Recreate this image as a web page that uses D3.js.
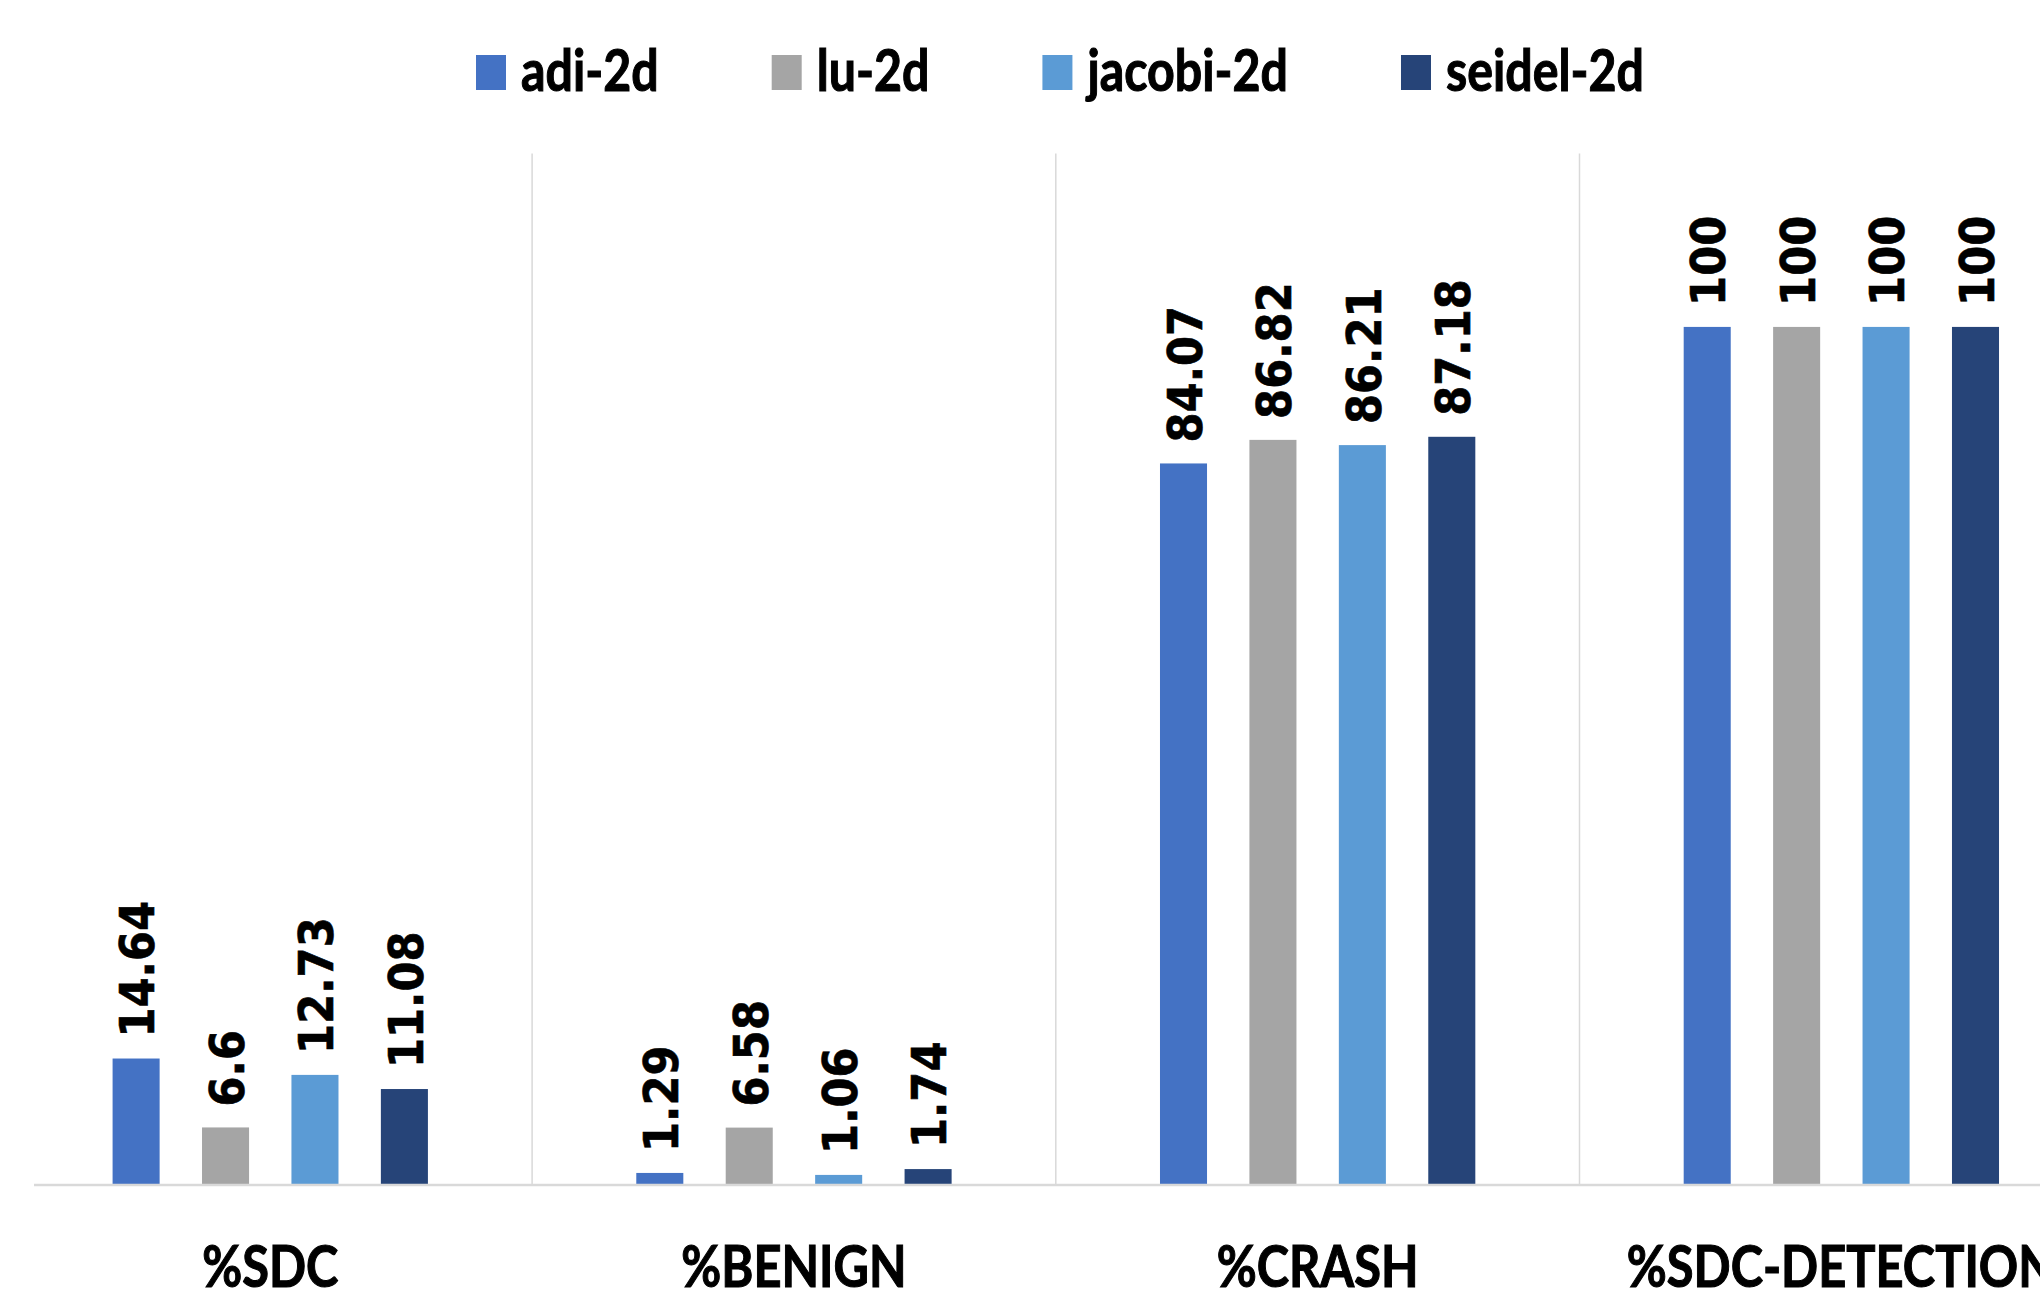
<!DOCTYPE html>
<html>
<head>
<meta charset="utf-8">
<script src="https://cdn.jsdelivr.net/npm/d3@7/dist/d3.min.js"></script>
<style>
  html, body { margin: 0; padding: 0; background: #ffffff; overflow: hidden; }
  svg { display: block; }
</style>
</head>
<body>
<svg id="chart" width="2040" height="1299"></svg>
<script>
// ---- data ----
const categories = ["%SDC", "%BENIGN", "%CRASH", "%SDC-DETECTION"];
const seriesNames = ["adi-2d", "lu-2d", "jacobi-2d", "seidel-2d"];
const adi2d    = [14.64, 1.29, 84.07, 100];
const lu2d     = [6.6,   6.58, 86.82, 100];
const jacobi2d = [12.73, 1.06, 86.21, 100];
const seidel2d = [11.08, 1.74, 87.18, 100];
const seriesColors = ["#4472C4", "#A5A5A5", "#5B9BD5", "#264478"];
const yDomain = [0, 120];

const seriesValues = [adi2d, lu2d, jacobi2d, seidel2d];
const rows = [];
categories.forEach((c, ci) => {
  seriesNames.forEach((s, si) => {
    rows.push({ category: c, series: s, value: seriesValues[si][ci], color: seriesColors[si] });
  });
});

// ---- layout ----
const W = 2040, H = 1299;
const svg = d3.select("#chart");
const baseY = 1184, topY = 155.5;

const x0 = d3.scaleBand().domain(categories).range([8.4, 2103.2]).paddingInner(0).paddingOuter(0);
const x1 = d3.scaleBand().domain(seriesNames).range([0, x0.bandwidth()]).paddingInner(0.474).paddingOuter(1.165);
const y = d3.scaleLinear().domain(yDomain).range([baseY, topY]);

const labelFont = "'DejaVu Sans Condensed', 'DejaVu Sans', sans-serif";
const textFont = "Lato, 'Open Sans', sans-serif";

// category separators
svg.append("g").selectAll("line")
  .data(categories.slice(1))
  .join("line")
  .attr("x1", d => x0(d)).attr("x2", d => x0(d))
  .attr("y1", y(yDomain[1]) - 2).attr("y2", y(0))
  .attr("stroke", "#d9d9d9").attr("stroke-width", 1.5);

// bars
svg.append("g").selectAll("rect")
  .data(rows)
  .join("rect")
  .attr("x", d => x0(d.category) + x1(d.series))
  .attr("width", x1.bandwidth())
  .attr("y", d => y(d.value))
  .attr("height", d => y(0) - y(d.value))
  .attr("fill", d => d.color);

// axis line
const xAxis = d3.axisBottom(x0).tickSize(0).tickPadding(0).tickFormat("");
const axisG = svg.append("g").attr("transform", `translate(0,${baseY})`).call(xAxis);
axisG.select(".domain").remove();
svg.append("line")
  .attr("x1", 34).attr("x2", W)
  .attr("y1", baseY + 1).attr("y2", baseY + 1)
  .attr("stroke", "#d9d9d9").attr("stroke-width", 2.5);

// category labels (narrowed to mimic the reference's condensed face)
const catTexts = svg.append("g").selectAll("text")
  .data(categories)
  .join("text")
  .attr("text-anchor", "middle")
  .style("font-family", textFont)
  .style("font-weight", "bold")
  .style("font-size", "57px")
  .attr("fill", "#000")
  .attr("stroke", "#000").attr("stroke-width", 1.1)
  .text(d => d);
let catNat = 0;
catTexts.each(function (d, i) { if (i < 3) catNat += this.getComputedTextLength(); });
const catSx = 563.4 / catNat;
catTexts.attr("transform", d => `translate(${x0(d) + x0.bandwidth() / 2},1287) scale(${catSx},1)`);

// value labels (rotated)
svg.append("g").selectAll("text")
  .data(rows)
  .join("text")
  .attr("transform", d => `translate(${x0(d.category) + x1(d.series) + x1.bandwidth() / 2 + 1},${y(d.value) - 21}) rotate(-90)`)
  .attr("dy", "0.36em")
  .attr("text-anchor", "start")
  .style("font-family", labelFont)
  .style("font-stretch", "condensed")
  .style("font-weight", "bold")
  .style("font-size", "48px")
  .attr("fill", "#000")
  .attr("stroke", "#000").attr("stroke-width", 0.6)
  .text(d => String(d.value));

// legend
const legend = svg.append("g");
const items = legend.selectAll("g")
  .data(seriesNames)
  .join("g");
items.append("rect")
  .attr("width", 30).attr("height", 35)
  .attr("y", 55)
  .attr("fill", (d, i) => seriesColors[i]);
const legTexts = items.append("text")
  .style("font-family", textFont)
  .style("font-weight", "bold")
  .style("font-size", "57px")
  .attr("fill", "#000")
  .attr("stroke", "#000").attr("stroke-width", 1.1)
  .text(d => d);
const natW = [];
legTexts.each(function () { natW.push(this.getComputedTextLength()); });
const legSx = 649 / d3.sum(natW);
legTexts.attr("transform", `translate(45,91) scale(${legSx},1)`);
let cursor = 0;
const offsets = [];
natW.forEach(w => {
  offsets.push(cursor);
  cursor += 45 + w * legSx + 113;
});
const totalW = cursor - 113;
const startX = 1060 - totalW / 2;
items.attr("transform", (d, i) => `translate(${startX + offsets[i]},0)`);
</script>
</body>
</html>
